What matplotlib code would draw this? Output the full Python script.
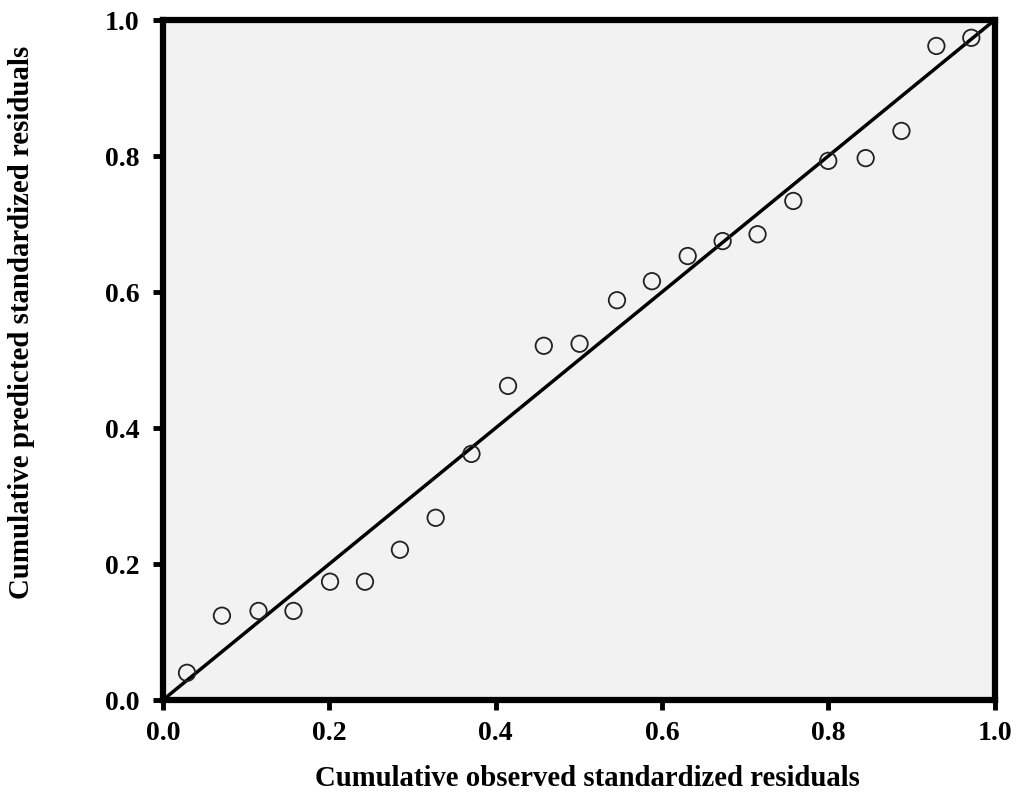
import matplotlib
matplotlib.use("Agg")
import matplotlib.pyplot as plt

observed = [0.029, 0.071, 0.115, 0.157, 0.201, 0.243, 0.285, 0.328, 0.371, 0.415,
            0.458, 0.501, 0.546, 0.588, 0.631, 0.673, 0.715, 0.758, 0.800, 0.845,
            0.888, 0.930, 0.972]
predicted = [0.040, 0.124, 0.131, 0.131, 0.174, 0.174, 0.221, 0.268, 0.362, 0.462,
             0.521, 0.524, 0.588, 0.616, 0.653, 0.675, 0.685, 0.734, 0.793, 0.797,
             0.837, 0.962, 0.974]
ref_line = [0.0, 1.0]
ticks = [0.0, 0.2, 0.4, 0.6, 0.8, 1.0]
tick_labels = ["0.0", "0.2", "0.4", "0.6", "0.8", "1.0"]

plt.rcParams['font.family'] = ['Liberation Serif', 'DejaVu Serif']

fig = plt.figure(figsize=(10.18, 7.98), dpi=100)
ax = fig.add_axes([0.160, 0.1228, 0.817, 0.852])
ax.set_facecolor('#f2f2f2')

ax.plot(ref_line, ref_line, color='black', lw=2.5, zorder=2)
ax.scatter(observed, predicted, s=140, facecolors='none', edgecolors='#222222',
           linewidths=1.3, zorder=3)

ax.set_xlim(0, 1)
ax.set_ylim(0, 1)
ax.set_xticks(ticks)
ax.set_xticklabels(tick_labels)
ax.set_yticks(ticks)
ax.set_yticklabels(tick_labels)
for sp in ax.spines.values():
    sp.set_linewidth(4.5)
    sp.set_color('black')
ax.tick_params(direction='out', length=7, width=3.5, labelsize=20, pad=8)
ax.tick_params(axis='y', pad=10)
for lbl in ax.get_xticklabels() + ax.get_yticklabels():
    lbl.set_fontweight('bold')

ax.set_xlabel('Cumulative observed standardized residuals', fontsize=20.7,
              fontweight='bold')
ax.set_ylabel('Cumulative predicted standardized residuals', fontsize=20.8,
              fontweight='bold')
ax.xaxis.set_label_coords(0.511, -0.095)
ax.yaxis.set_label_coords(-0.154, 0.556)

fig.savefig('out.png', dpi=100)
